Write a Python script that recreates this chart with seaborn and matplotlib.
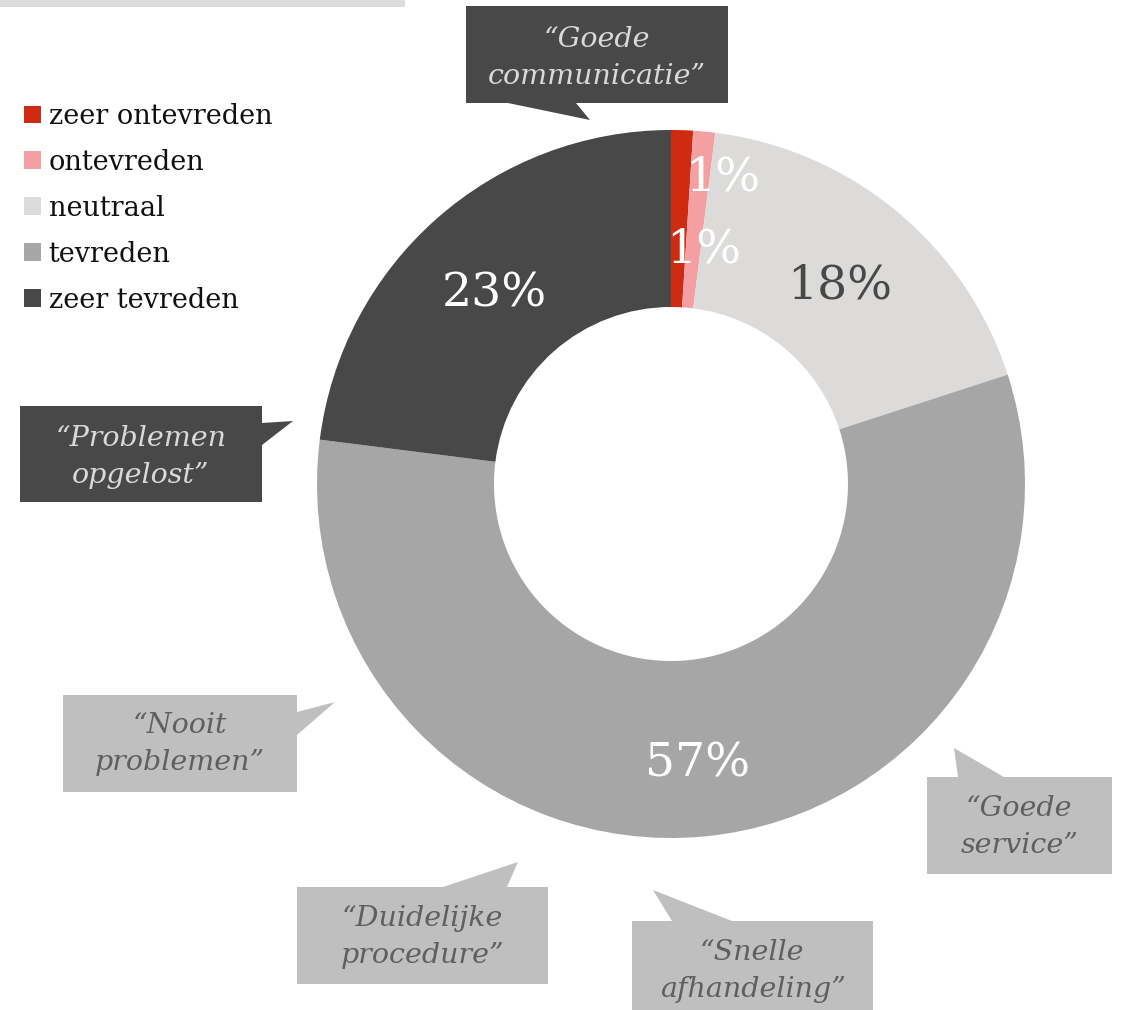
import matplotlib
matplotlib.use("Agg")
import math
import matplotlib.pyplot as plt
from matplotlib.patches import Rectangle, Polygon
import seaborn as sns

# Satisfaction breakdown (percent of respondents)
categories = ["zeer ontevreden", "ontevreden", "neutraal", "tevreden", "zeer tevreden"]
shares = [1, 1, 18, 57, 23]
slice_colors = ["#cf2a12", "#f4a0a2", "#dcdbd9", "#a6a6a6", "#484848"]
pct_colors = ["white", "white", "#484848", "white", "white"]

# Respondent quotes shown in speech bubbles
quotes = ["\u201cGoede\ncommunicatie\u201d", "\u201cProblemen\nopgelost\u201d",
          "\u201cNooit\nproblemen\u201d", "\u201cDuidelijke\nprocedure\u201d",
          "\u201cSnelle\nafhandeling\u201d", "\u201cGoede\nservice\u201d"]
quote_dark = [True, True, False, False, False, False]

W, H = 1125, 1010
sns.set_theme(style="white")
plt.rcParams["font.family"] = ["DejaVu Serif"]

fig = plt.figure(figsize=(W / 100, H / 100), dpi=100)
ax = fig.add_axes([0, 0, 1, 1])


def Y(y):
    # page coordinates are measured from the top
    return H - y


cx, cy, R = 671, Y(484), 354
palette = sns.color_palette(slice_colors)

wedges, texts, autotexts = ax.pie(
    shares, colors=palette, startangle=90, counterclock=False,
    radius=R, center=(cx, cy),
    wedgeprops=dict(width=R * 0.5, linewidth=0),
    autopct=lambda p: f"{p:.0f}%", pctdistance=0.75,
    textprops=dict(fontsize=34),
)

# label placement: radial distance (fraction of R) and optional angle override;
# the two thin slices get staggered labels so they do not collide
label_dist = [0.667, 0.877, 0.735, 0.793, 0.735]
label_angle = [82.0, 80.4, 49.6, None, 132.9]
for w, t, c, d, a in zip(wedges, autotexts, pct_colors, label_dist, label_angle):
    t.set_color(c)
    ang = math.radians(a if a is not None else (w.theta1 + w.theta2) / 2)
    t.set_position((cx + d * R * math.cos(ang), cy + d * R * math.sin(ang)))

# top accent bar
ax.add_patch(Rectangle((0, Y(7)), 405, 7, color="#dcdcdc", lw=0))

# speech bubbles: box (x0, y0, x1, y1), tail triangle, text centre y; page coords
bubbles = [
    ((466, 6, 728, 103), [(508, 103), (590, 120), (576, 103)], 58),
    ((20, 406, 262, 502), [(262, 423), (293, 421), (262, 445)], 457),
    ((63, 695, 297, 792), [(297, 712), (335, 702), (297, 735)], 744),
    ((297, 887, 548, 984), [(443, 887), (518, 862), (507, 887)], 937),
    ((632, 921, 873, 1015), [(672, 921), (653, 890), (732, 921)], 971),
    ((927, 777, 1112, 874), [(958, 777), (954, 748), (1004, 777)], 827),
]
for (box, tail, ty), text, dark in zip(bubbles, quotes, quote_dark):
    fill = "#484848" if dark else "#bfbfbf"
    tcol = "#d9d9d9" if dark else "#5f5f5f"
    x0, y0, x1, y1 = box
    ax.add_patch(Rectangle((x0, Y(y1)), x1 - x0, y1 - y0, color=fill, lw=0))
    ax.add_patch(Polygon([(x, Y(y)) for x, y in tail], closed=True, color=fill, lw=0))
    ax.text((x0 + x1) / 2, Y(ty), text, ha="center", va="center",
            fontsize=20.5, style="italic", color=tcol, linespacing=1.5)

ax.legend(wedges, categories, loc="upper left",
          bbox_to_anchor=(24 / W, 1 - 103 / H), frameon=False,
          fontsize=19.5, handlelength=0.64, handleheight=0.64,
          handletextpad=0.27, labelspacing=0.70,
          borderpad=0, borderaxespad=0, labelcolor="#111111")

ax.set_xlim(0, W)
ax.set_ylim(0, H)
ax.set_aspect("equal")
ax.axis("off")

fig.savefig("out.png", dpi=100, facecolor="white")
